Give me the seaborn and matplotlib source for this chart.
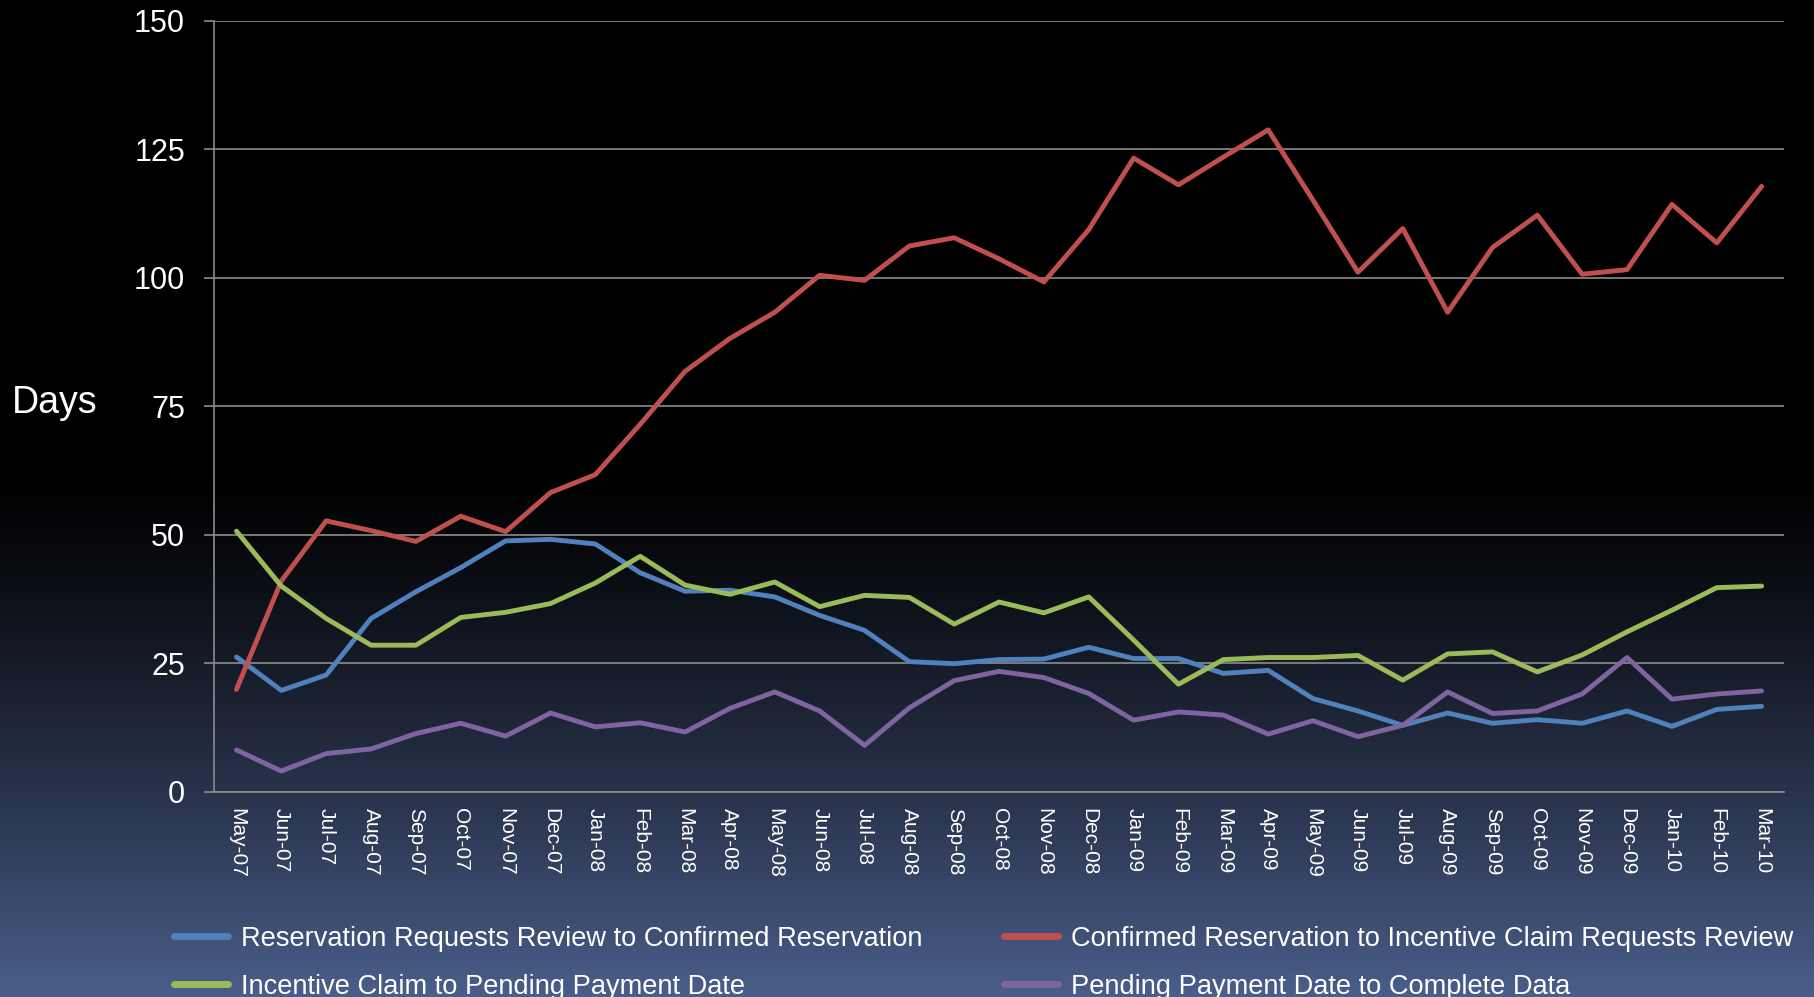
import numpy as np
import pandas as pd
import seaborn as sns
import matplotlib.pyplot as plt
from matplotlib.lines import Line2D

months = ["May-07", "Jun-07", "Jul-07", "Aug-07", "Sep-07", "Oct-07", "Nov-07", "Dec-07",
          "Jan-08", "Feb-08", "Mar-08", "Apr-08", "May-08", "Jun-08", "Jul-08", "Aug-08",
          "Sep-08", "Oct-08", "Nov-08", "Dec-08", "Jan-09", "Feb-09", "Mar-09", "Apr-09",
          "May-09", "Jun-09", "Jul-09", "Aug-09", "Sep-09", "Oct-09", "Nov-09", "Dec-09",
          "Jan-10", "Feb-10", "Mar-10"]

review_to_confirmed = [26.2, 19.7, 22.7, 33.7, 38.9, 43.6, 48.8, 49.1, 48.2, 42.6, 39.0, 39.2,
                       37.9, 34.3, 31.4, 25.3, 24.9, 25.7, 25.8, 28.1, 25.9, 25.9, 23.0, 23.6,
                       18.1, 15.7, 12.9, 15.3, 13.3, 14.0, 13.3, 15.7, 12.7, 16.0, 16.6]
confirmed_to_claim = [19.9, 41.0, 52.7, 50.8, 48.7, 53.6, 50.6, 58.2, 61.7, 71.5, 81.8, 88.2,
                      93.3, 100.5, 99.5, 106.2, 107.8, 103.7, 99.2, 109.4, 123.3, 118.1, 123.5, 128.8,
                      115.1, 101.1, 109.6, 93.3, 105.9, 112.2, 100.7, 101.6, 114.3, 106.8, 117.8]
claim_to_pending = [50.7, 40.0, 33.7, 28.5, 28.5, 33.9, 34.9, 36.6, 40.6, 45.8, 40.2, 38.4,
                    40.8, 36.0, 38.2, 37.8, 32.6, 36.9, 34.8, 37.9, 29.5, 20.9, 25.7, 26.1,
                    26.1, 26.5, 21.7, 26.8, 27.2, 23.3, 26.6, 31.1, 35.3, 39.7, 40.0]
pending_to_complete = [8.1, 4.0, 7.4, 8.3, 11.3, 13.3, 10.8, 15.3, 12.6, 13.4, 11.6, 16.2,
                       19.4, 15.7, 9.0, 16.3, 21.6, 23.4, 22.2, 19.1, 13.9, 15.5, 14.9, 11.2,
                       13.8, 10.7, 12.9, 19.4, 15.2, 15.7, 19.0, 26.1, 18.0, 19.0, 19.6]

series_names = ["Reservation Requests Review to Confirmed Reservation",
                "Confirmed Reservation to Incentive Claim Requests Review",
                "Incentive Claim to Pending Payment Date",
                "Pending Payment Date to Complete Data"]
series_colors = ["#4F81BD", "#C0504D", "#9BBB59", "#8064A2"]

sns.set_style("white")
plt.rcParams["font.family"] = ["Liberation Sans", "DejaVu Sans"]

df = pd.DataFrame({"Month": months,
                   series_names[0]: review_to_confirmed,
                   series_names[1]: confirmed_to_claim,
                   series_names[2]: claim_to_pending,
                   series_names[3]: pending_to_complete})
df = df.melt(id_vars="Month", var_name="Series", value_name="Days")

fig = plt.figure(figsize=(18.14, 9.97), dpi=100, facecolor="black")

# background: black on top, fading to slate blue at the bottom
bg = fig.add_axes([0, 0, 1, 1], zorder=0)
rows = np.linspace(0, 1, 500)
t = np.clip((rows - 0.47) / 0.53, 0, 1) ** 1.25
bottom_col = np.array([74, 94, 138]) / 255
grad = t[:, None] * bottom_col[None, :]
bg.imshow(grad[:, None, :], aspect="auto", extent=[0, 1, 0, 1])
bg.axis("off")

grid_col = "#8c8c8c"
ax = fig.add_axes([0.118, 0.206, 0.8655, 0.773], zorder=1)
ax.set_facecolor("none")
sns.lineplot(data=df, x="Month", y="Days", hue="Series", hue_order=series_names,
             palette=dict(zip(series_names, series_colors)), linewidth=3.5,
             errorbar=None, sort=False, legend=False, ax=ax)

ax.set_xlim(-0.5, len(months) - 0.5)
ax.set_ylim(0, 150)
ax.set_yticks(range(0, 151, 25))
ax.yaxis.grid(True, color=grid_col, lw=1.2)
ax.xaxis.grid(False)
ax.set_axisbelow(True)
for side in ["top", "right"]:
    ax.spines[side].set_visible(False)
for side in ["left", "bottom"]:
    ax.spines[side].set_color(grid_col)
    ax.spines[side].set_linewidth(1.2)
ax.set_xlabel("")
ax.set_ylabel("")
ax.tick_params(axis="y", length=7, width=1.2, color=grid_col, labelcolor="white",
               labelsize=22, pad=14, left=True)
ax.tick_params(axis="x", length=0, labelcolor="white", labelsize=15, pad=12, bottom=True)
plt.setp(ax.get_xticklabels(), rotation=-90, ha="center", va="top")

fig.text(12 / 1814, 1 - 403 / 997, "Days", color="white", fontsize=27, ha="left", va="center")

handles = [Line2D([0], [0], color=c, lw=5, solid_capstyle="round") for c in series_colors]
order = [0, 2, 1, 3]
fig.legend([handles[i] for i in order], [series_names[i] for i in order], ncol=2,
           loc="upper left", bbox_to_anchor=(174 / 1814, 1 - 926 / 997), frameon=False,
           fontsize=19.6, labelcolor="white", handlelength=2.0, handletextpad=0.45,
           columnspacing=3.0, labelspacing=0.8, borderpad=0, borderaxespad=0)

plt.savefig("out.png", dpi=100, facecolor=fig.get_facecolor())
